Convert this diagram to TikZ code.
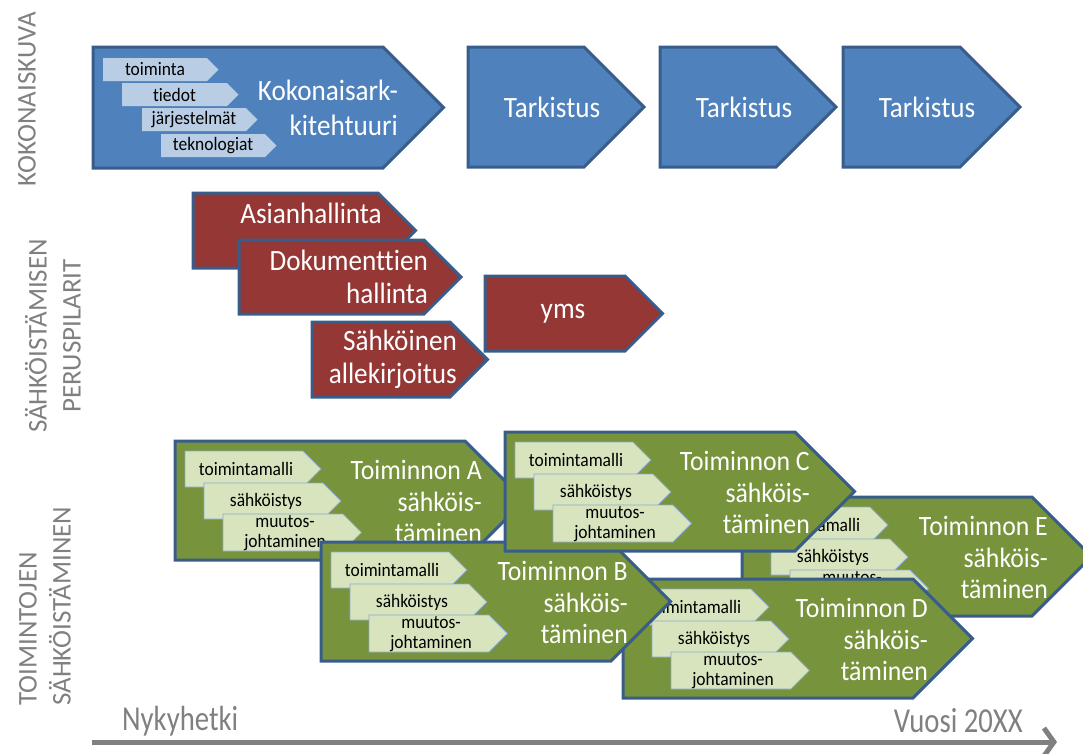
\documentclass[tikz,border=0pt]{standalone}
\usepackage{fontspec}
\usepackage{graphicx}
\setmainfont{Carlito}[FakeStretch=0.92,Ligatures=NoCommon]
\newfontfamily\labelfont{Carlito}[Ligatures=NoCommon]
\usetikzlibrary{arrows.meta}
\definecolor{bfill}{HTML}{4F81BD}
\definecolor{bline}{HTML}{385D8A}
\definecolor{lblue}{HTML}{B9CDE5}
\definecolor{rfill}{HTML}{953735}
\definecolor{gfill}{HTML}{77933C}
\definecolor{lgreen}{HTML}{D7E4BD}
\definecolor{cline}{HTML}{8EA9CF}
\definecolor{gtext}{HTML}{808080}
\tikzset{
 blk/.style={draw=bline, line width=3pt, line join=miter},
 blueblk/.style={blk, fill=bfill},
 redblk/.style={blk, fill=rfill},
 greenblk/.style={blk, fill=gfill},
 bluechev/.style={fill=lblue},
 greenchev/.style={fill=lgreen, draw=cline, line width=0.8pt},
 bigtxt/.style={text=white, font=\fontsize{29.5}{35}\selectfont, inner sep=0pt},
 redtxt/.style={text=white, font=\fontsize{29.5}{33}\selectfont, inner sep=0pt, align=right, anchor=east},
 greentxt/.style={text=white, font=\fontsize{28}{31.5}\selectfont, inner sep=0pt, align=right, anchor=east},
 chevtxt/.style={text=black, font=\fontsize{19}{20}\selectfont, inner sep=0pt, align=center},
 sidelabel/.style={text=gtext, font=\labelfont\fontsize{27}{34}\selectfont, rotate=90, inner sep=0pt},
 timelabel/.style={text=gtext, font=\labelfont\fontsize{35}{36}\selectfont, inner sep=0pt},
 timeline/.style={draw=gtext, line width=5pt, -{Straight Barb[length=10pt,width=28pt]}},
}
% pentagon arrow: style, name, x, y, width to shoulder, height
\newcommand\pent[6]{%
 \path[#1] (#3,#4) coordinate (#2) -- ({#3+#5},#4) -- ({#3+#5+#6/2},{#4+#6/2}) coordinate (#2tip)
   -- ({#3+#5},{#4+#6}) -- (#3,{#4+#6}) -- cycle;}
% green block: name, x, y, letter, text right offset
\newcommand\gblock[5]{%
 \pent{greenblk}{#1}{#2}{#3}{290}{119}
 \pent{greenchev}{#1c1}{#2+10}{#3+10}{118}{36}
 \pent{greenchev}{#1c2}{#2+29}{#3+42}{119}{36}
 \pent{greenchev}{#1c3}{#2+48}{#3+73}{120}{37}
 \node[chevtxt] (#1t1) at ({#2+10+61},{#3+10+18}) {toimintamalli};
 \node[chevtxt] (#1t2) at ({#2+29+62},{#3+42+18}) {sähköistys};
 \node[chevtxt] (#1t3) at ({#2+48+62},{#3+73+19}) {muutos-\\johtaminen};
 \node[greentxt] (#1txt) at ({#2+#5},{#3+60.5}) {Toiminnon #4\\sähköis-\\täminen};
}
\begin{document}
\begin{tikzpicture}[x=1pt,y=-1pt]
\useasboundingbox (0,0) rectangle (1083,753);
% side labels
\node[sidelabel] (lab1) at (27,99) {KOKONAISKUVA};
\node[sidelabel, align=center] (lab2) at (53,336) {SÄHKÖISTÄMISEN\\PERUSPILARIT};
\node[sidelabel, align=left, anchor=west] (lab3) at (45,706) {TOIMINTOJEN\\SÄHKÖISTÄMINEN};
% top row
\pent{blueblk}{kok}{93}{47}{290}{121}
\pent{bluechev}{kc1}{103}{58}{104}{23}
\pent{bluechev}{kc2}{122}{83}{105}{23}
\pent{bluechev}{kc3}{142}{108}{104}{23}
\pent{bluechev}{kc4}{161}{134}{104}{23}
\node[chevtxt] (kc1t) at (155,69.5) {toiminta};
\node[chevtxt] (kc2t) at (174.5,94.5) {tiedot};
\node[chevtxt] (kc3t) at (194,119.5) {järjestelmät};
\node[chevtxt] (kc4t) at (213,145.5) {teknologiat};
\node[bigtxt, align=right, anchor=east] (kokt) at (398,107.5) {Kokonaisark-\\kitehtuuri};
\pent{blueblk}{ta}{468}{47}{116}{120}
\pent{blueblk}{tb}{660}{47}{116}{120}
\pent{blueblk}{tc}{843}{47}{117}{120}
\node[bigtxt] (tat) at (552,107) {Tarkistus};
\node[bigtxt] (tbt) at (744,107) {Tarkistus};
\node[bigtxt] (tct) at (927,107) {Tarkistus};
% middle row
\pent{redblk}{r1}{193}{193}{185}{75}
\node[redtxt] (r1t) at (382,213) {Asianhallinta};
\pent{redblk}{r2}{239}{240}{185}{74}
\node[redtxt] (r2t) at (428,277) {Dokumenttien\\hallinta};
\pent{redblk}{r3}{312}{322}{138}{75}
\node[redtxt] (r3t) at (457,359.5) {Sähköinen\\allekirjoitus};
\pent{redblk}{r4}{485}{276}{140}{75}
\node[bigtxt] (r4t) at (563,313.5) {yms};
% bottom row
\gblock{A}{175}{441}{A}{307}
\gblock{E}{742}{497}{E}{306}
\gblock{D}{623}{579}{D}{305}
\gblock{B}{321}{542}{B}{307}
\gblock{C}{505}{432}{C}{305}
% time axis
\coordinate (axl) at (92,742);
\coordinate (axr) at (1057,742);
\draw[timeline] (axl) -- (axr);
\node[timelabel, anchor=west] (now) at (122,721) {\scalebox{0.82}[1]{Nykyhetki}};
\node[timelabel, anchor=east] (future) at (1023,721) {\scalebox{0.82}[1]{Vuosi 20XX}};
\end{tikzpicture}
\end{document}
